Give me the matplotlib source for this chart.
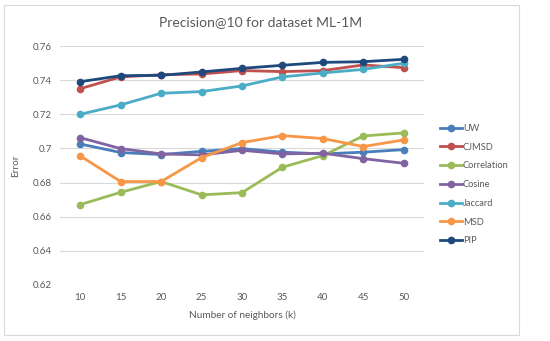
import matplotlib
matplotlib.use("Agg")
import matplotlib.pyplot as plt
import matplotlib.ticker as mticker
from matplotlib.patches import Rectangle

# ── Data ──────────────────────────────────────────────────────────────────────
neighbors = [10, 15, 20, 25, 30, 35, 40, 45, 50]

uw          = [0.7026, 0.6976, 0.6964, 0.6983, 0.6999, 0.6978, 0.6968, 0.6978, 0.6993]
cjmsd       = [0.7350, 0.7419, 0.7432, 0.7436, 0.7456, 0.7450, 0.7456, 0.7489, 0.7473]
correlation = [0.6671, 0.6743, 0.6806, 0.6728, 0.6741, 0.6890, 0.6958, 0.7073, 0.7091]
cosine      = [0.7063, 0.6999, 0.6968, 0.6962, 0.6989, 0.6968, 0.6972, 0.6940, 0.6913]
jaccard     = [0.7200, 0.7255, 0.7323, 0.7333, 0.7366, 0.7419, 0.7442, 0.7463, 0.7499]
msd         = [0.6956, 0.6806, 0.6806, 0.6946, 0.7034, 0.7075, 0.7058, 0.7011, 0.7050]
pip         = [0.7391, 0.7426, 0.7428, 0.7448, 0.7469, 0.7487, 0.7504, 0.7508, 0.7522]

series = [
    ("UW", uw, "#4A7EBB"),
    ("CJMSD", cjmsd, "#C0504D"),
    ("Correlation", correlation, "#9BBB59"),
    ("Cosine", cosine, "#8064A2"),
    ("Jaccard", jaccard, "#4BACC6"),
    ("MSD", msd, "#F79646"),
    ("PIP", pip, "#1F497D"),
]

plt.rcParams["font.family"] = ["Lato", "DejaVu Sans"]
TEXT = "#595959"

# ── Plot ──────────────────────────────────────────────────────────────────────
fig = plt.figure(figsize=(5.5, 3.41), dpi=100)
fig.patch.set_facecolor("white")
fig.patches.append(Rectangle((4 / 550, 6 / 341), 515 / 550, 330 / 341,
                             transform=fig.transFigure, fill=False,
                             edgecolor="#D9D9D9", linewidth=0.8))

ax = fig.add_axes([60 / 550, 56 / 341, 364 / 550, 239 / 341])

for name, vals, color in series:
    ax.plot(neighbors, vals, color=color, linewidth=2.0, marker="o",
            markersize=4.5, label=name, zorder=3)

ax.set_xlim(7.5, 52.5)
ax.set_ylim(0.62, 0.76)
ax.set_xticks(neighbors)
ax.yaxis.set_major_locator(mticker.MultipleLocator(0.02))
ax.yaxis.set_major_formatter(mticker.FuncFormatter(lambda v, _: f"{v:.2f}".rstrip("0")))
ax.grid(axis="y", color="#D9D9D9", linewidth=0.8)
ax.set_axisbelow(True)
for spine in ax.spines.values():
    spine.set_visible(False)
ax.tick_params(axis="both", length=0, labelsize=7, colors=TEXT, pad=6)

fig.text(261 / 550, 1 - 22 / 341, "Precision@10 for dataset ML-1M",
         fontsize=10, color=TEXT, ha="center", va="center")
ax.set_xlabel("Number of neighbors (k)", fontsize=7.2, color=TEXT, labelpad=6)
ax.set_ylabel("Error", fontsize=7.2, color=TEXT, labelpad=9)

ax.legend(loc="center left", bbox_to_anchor=(1.02, 0.42), frameon=False,
          fontsize=6.7, labelcolor=TEXT, handlelength=2.4, handletextpad=0.1,
          labelspacing=1.05)

fig.savefig("out.png", dpi=100, facecolor=fig.get_facecolor())
